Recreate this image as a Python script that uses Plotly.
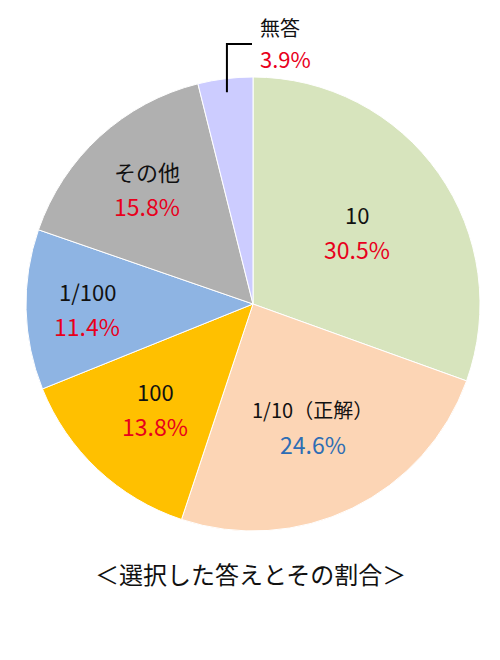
import math
import plotly.graph_objects as go

# -- data
labels = ["10", "1/10（正解）", "100", "1/100", "その他", "無答"]
values = [30.5, 24.6, 13.8, 11.4, 15.8, 3.9]
colors = ["#D7E4BD", "#FCD5B5", "#FFC000", "#8EB4E3", "#B0B0B0", "#CCCCFF"]
pct_colors = ["#E8001C", "#2E6DB4", "#E8001C", "#E8001C", "#E8001C", "#E8001C"]
caption = "＜選択した答えとその割合＞"

# label placement (fraction of radius from center), like Excel's best fit
label_r = [0.56, 0.60, 0.63, 0.73, 0.69, None]

# figure is drawn 8px in from the page corner (body margin)
W, H = 500, 660
cx, cy, R = 245, 296, 227
font = "Noto Sans CJK JP, Noto Sans, sans-serif"

fig = go.Figure(go.Pie(
    labels=labels,
    values=values,
    sort=False,
    direction="clockwise",
    rotation=0,
    marker=dict(colors=colors, line=dict(color="white", width=1)),
    textinfo="none",
    hoverinfo="label+percent",
    showlegend=False,
    domain=dict(x=[(cx - R) / W, (cx + R) / W], y=[1 - (cy + R) / H, 1 - (cy - R) / H]),
))


def note(x, y, text, size, color, shift, xanchor="center"):
    return dict(x=x / W, y=1 - y / H, xref="paper", yref="paper",
                xanchor=xanchor, yanchor="middle", text=text, showarrow=False,
                yshift=shift, font=dict(size=size, color=color, family=font))


total = sum(values)
cum = 0
annotations = []
for i, (lab, v) in enumerate(zip(labels, values)):
    mid = (cum + v / 2) / total * 2 * math.pi
    cum += v
    if label_r[i] is None:
        continue
    px = cx + label_r[i] * R * math.sin(mid)
    py = cy - label_r[i] * R * math.cos(mid)
    size = 20 if "（" in lab else 22
    annotations.append(note(px, py, lab, size, "#111111", 17))
    annotations.append(note(px, py, f"{v:.1f}%", 23, pct_colors[i], -18))

# outside label for the small slice, with an elbow leader line
i = 5
mid = (total - values[i] / 2) / total * 2 * math.pi
ex = cx + 0.94 * R * math.sin(mid)
ey = cy - 0.94 * R * math.cos(mid)
fig.add_shape(type="path", xref="paper", yref="paper",
              path=f"M {ex / W} {1 - ey / H} L {ex / W} {1 - 36 / H} L {244 / W} {1 - 36 / H}",
              line=dict(color="black", width=2))
annotations.append(note(250, 36, labels[i], 20, "#111111", 17, "left"))
annotations.append(note(250, 36, f"{values[i]:.1f}%", 22, pct_colors[i], -14, "left"))

annotations.append(note(W / 2 - 8, 565, caption, 24, "#111111", 0))

fig.update_layout(
    width=W, height=H,
    margin=dict(l=0, r=0, t=0, b=0),
    paper_bgcolor="white",
    annotations=annotations,
)
fig.write_html("out.html")
